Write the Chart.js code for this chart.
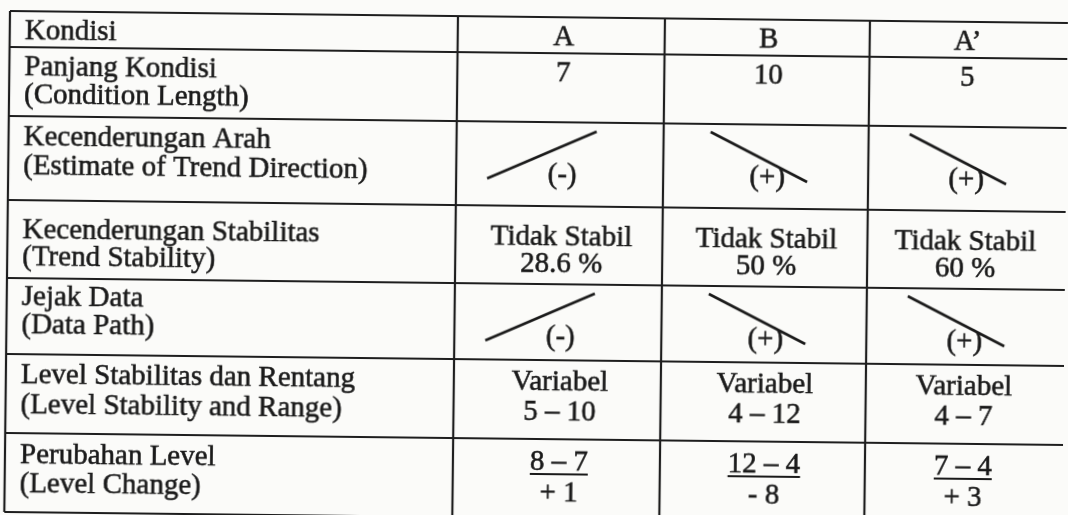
<!DOCTYPE html>
<html>
<head>
<meta charset="utf-8">
<script src="https://cdn.jsdelivr.net/npm/chart.js@4.4.1/dist/chart.umd.min.js"></script>
<style>
  html, body { margin: 0; padding: 0; background: #fbfbf9; overflow: hidden; }
  #tabel {
    display: block;
    transform: rotate(0.65deg);
    transform-origin: 10px 11px;
  }
</style>
</head>
<body>
<canvas id="tabel" width="1068" height="515"></canvas>
<script>
// data tabel analisis dalam kondisi
const rowTitles = [
  ["Kondisi"],
  ["Panjang Kondisi", "(Condition Length)"],
  ["Kecenderungan Arah", "(Estimate of Trend Direction)"],
  ["Kecenderungan Stabilitas", "(Trend Stability)"],
  ["Jejak Data", "(Data Path)"],
  ["Level Stabilitas dan Rentang", "(Level Stability and Range)"],
  ["Perubahan Level", "(Level Change)"],
];
const conditions = ["A", "B", "A’"];
const conditionLength = [7, 10, 5];
const trendDirection = [1, -1, -1]; // 1 = naik, -1 = turun
const trendSign = ["(-)", "(+)", "(+)"];
const stabilityLabel = ["Tidak Stabil", "Tidak Stabil", "Tidak Stabil"];
const stabilityPercent = ["28.6", "50", "60"];
const pathDirection = [1, -1, -1];
const pathSign = ["(-)", "(+)", "(+)"];
const levelLabel = ["Variabel", "Variabel", "Variabel"];
const levelMin = [5, 4, 4];
const levelMax = [10, 12, 7];
const levelFrom = [8, 12, 7];
const levelTo = [7, 4, 4];
const levelChange = ["+ 1", "- 8", "+ 3"];

// tata letak (satuan skala = piksel)
const rowEdges = [11, 47, 116, 200, 278, 354, 433, 512];
const colEdges = [10, 458, 665, 870, 1082];
const colCenters = [564, 769, 968];
const titleBase = [[28], [28, 56], [29, 58], [38, 65], [27, 55], [29, 59], [30, 59]];
const FONT = "29px 'Liberation Serif', 'Times New Roman', serif";
const INK = "#1a1a1a";

function trendLine(dir, i, row) {
  const cx = colCenters[i];
  const top = rowEdges[row];
  if (dir > 0) {
    return [{ x: cx - 75, y: top + 57 }, { x: cx + 34, y: top + 9 }];
  }
  return [{ x: cx - 57, y: top + 8 }, { x: cx + 40, y: top + 57 }];
}

const datasets = [];
conditions.forEach((c, i) => {
  datasets.push({ label: "arah " + c, data: trendLine(trendDirection[i], i, 2) });
  datasets.push({ label: "jejak " + c, data: trendLine(pathDirection[i], i, 4) });
});
datasets.forEach((d) => {
  d.showLine = true;
  d.pointRadius = 0;
  d.borderColor = INK;
  d.borderWidth = 2.6;
  d.fill = false;
  d.clip = false;
});

const tablePlugin = {
  id: "tablePlugin",
  beforeDatasetsDraw(chart) {
    const ctx = chart.ctx;
    const xs = chart.scales.x;
    const ys = chart.scales.y;
    const X = (v) => xs.getPixelForValue(v);
    const Y = (v) => ys.getPixelForValue(v);
    const write = (t, x, y) => {
      ctx.lineWidth = 0.55;
      ctx.strokeText(t, x, y);
      ctx.fillText(t, x, y);
    };
    ctx.save();

    // garis tabel
    ctx.strokeStyle = "#1e1e1e";
    ctx.lineWidth = 2.2;
    rowEdges.forEach((r) => {
      ctx.beginPath();
      ctx.moveTo(X(colEdges[0]), Y(r));
      ctx.lineTo(X(colEdges[colEdges.length - 1]), Y(r));
      ctx.stroke();
    });
    colEdges.forEach((c) => {
      ctx.beginPath();
      ctx.moveTo(X(c), Y(rowEdges[0]));
      ctx.lineTo(X(c), Y(rowEdges[rowEdges.length - 1]));
      ctx.stroke();
    });

    ctx.fillStyle = INK;
    ctx.strokeStyle = INK;
    ctx.font = FONT;
    ctx.textBaseline = "alphabetic";

    // kolom judul
    ctx.textAlign = "left";
    rowTitles.forEach((lines, r) => {
      lines.forEach((t, k) => {
        write(t, X(colEdges[0] + 15), Y(rowEdges[r] + titleBase[r][k]));
      });
    });

    // isi sel
    ctx.textAlign = "center";
    conditions.forEach((c, i) => {
      const cx = X(colCenters[i]);
      write(c, cx, Y(rowEdges[0] + 28));
      write(String(conditionLength[i]), cx, Y(rowEdges[1] + 28));
      write(trendSign[i], cx, Y(rowEdges[2] + 61));
      write(stabilityLabel[i], cx, Y(rowEdges[3] + 39));
      write(stabilityPercent[i] + " %", cx, Y(rowEdges[3] + 66));
      write(pathSign[i], cx, Y(rowEdges[4] + 61));
      write(levelLabel[i], cx, Y(rowEdges[5] + 30));
      write(levelMin[i] + " – " + levelMax[i], cx, Y(rowEdges[5] + 60));
      const diff = levelFrom[i] + " – " + levelTo[i];
      const by = Y(rowEdges[6] + 31);
      write(diff, cx, by);
      const w = ctx.measureText(diff).width;
      ctx.lineWidth = 1.8;
      ctx.beginPath();
      ctx.moveTo(cx - w / 2, by + 4);
      ctx.lineTo(cx + w / 2, by + 4);
      ctx.stroke();
      write(levelChange[i], cx, Y(rowEdges[6] + 62));
    });
    ctx.restore();
  },
};

new Chart(document.getElementById("tabel"), {
  type: "scatter",
  data: { datasets: datasets },
  options: {
    responsive: false,
    animation: false,
    events: [],
    layout: { padding: 0 },
    scales: {
      x: { type: "linear", min: 0, max: 1068, display: false },
      y: { type: "linear", min: 0, max: 515, reverse: true, display: false },
    },
    plugins: {
      legend: { display: false },
      tooltip: { enabled: false },
    },
  },
  plugins: [tablePlugin],
});
</script>
</body>
</html>
